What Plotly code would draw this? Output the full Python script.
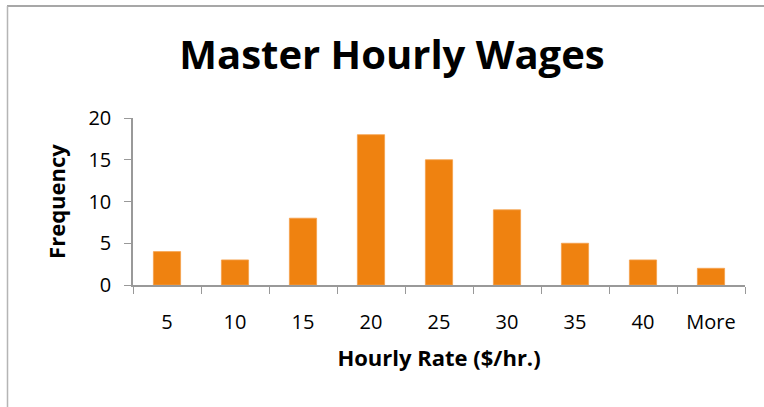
import plotly.graph_objects as go

categories = ["5", "10", "15", "20", "25", "30", "35", "40", "More"]
frequency = [4, 3, 8, 18, 15, 9, 5, 3, 2]
y_ticks = [0, 5, 10, 15, 20]

W, H = 764, 407
L, R, T, B = 133, 19, 118, 122
pw, ph = W - L - R, H - T - B

def px_x(x):
    return (x - L) / pw

def px_y(y):
    return (H - B - y) / ph

fig = go.Figure(go.Bar(
    x=categories, y=frequency,
    marker=dict(color="#EF8210", line=dict(color="#F5A04A", width=0.8)),
    width=0.4,
))

fig.update_layout(
    width=W, height=H,
    margin=dict(l=L, r=R, t=T, b=B),
    paper_bgcolor="white", plot_bgcolor="white",
    showlegend=False,
    title=dict(text="<b>Master Hourly Wages</b>", x=392 / W, xanchor="center",
               y=1 - 55 / H, yanchor="middle", yref="container",
               font=dict(family="Open Sans", size=40, color="black")),
    font=dict(family="Open Sans", color="black"),
    xaxis=dict(
        type="category", showline=True, linecolor="#999", linewidth=1.5,
        ticks="outside", tickson="boundaries", ticklen=7, tickcolor="#999", tickwidth=1,
        tickfont=dict(size=20), showgrid=False, ticklabelstandoff=18,
        title=dict(text="<b>Hourly Rate ($/hr.)</b>", font=dict(size=22), standoff=17),
    ),
    yaxis=dict(
        range=[0, 20], tickvals=y_ticks, showline=True, linecolor="#999", linewidth=1.5,
        ticks="outside", ticklen=7, tickcolor="#999", tickwidth=1,
        tickfont=dict(size=20), showgrid=False, zeroline=False, ticklabelstandoff=9,
        title=dict(text="<b>Frequency</b>", font=dict(size=22), standoff=17),
    ),
    shapes=[
        dict(type="line", xref="paper", yref="paper",
             x0=px_x(7), x1=px_x(764), y0=px_y(6), y1=px_y(6),
             line=dict(color="#8a8a8a", width=1.5)),
        dict(type="line", xref="paper", yref="paper",
             x0=px_x(7.5), x1=px_x(7.5), y0=px_y(6), y1=px_y(407),
             line=dict(color="#b5b5b5", width=1.5)),
    ],
)

fig.write_html("out.html", config={"displayModeBar": False},
               post_script="document.body.style.margin='0';"
                           "document.body.style.overflow='hidden';"
                           "document.documentElement.style.overflow='hidden';")
